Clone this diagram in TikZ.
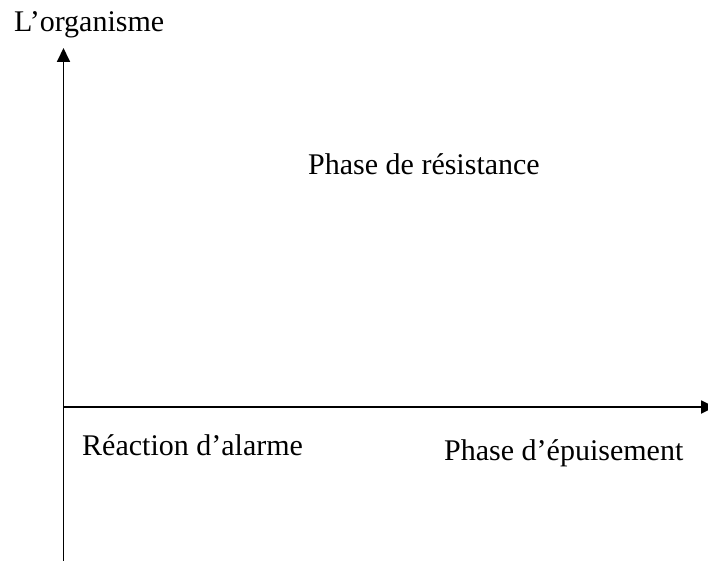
\documentclass[tikz,border=0pt]{standalone}
\usepackage{fontspec}
\setmainfont{Liberation Serif}
\usetikzlibrary{arrows.meta}
\begin{document}
\begin{tikzpicture}[x=1pt, y=-1pt, every node/.style={font=\fontsize{30}{36}\selectfont, inner sep=0pt, anchor=base west}]
        \useasboundingbox (0,0) rectangle (708,561);
        \tikzset{axis/.style={line width=1.8pt, -{Triangle[width=13pt, length=14pt]}}}

        % Axes
        \coordinate (origin) at (63.5,407);
        \coordinate (ytop) at (63.5,48);
        \coordinate (ybot) at (63.5,563);
        \coordinate (xend) at (715,407);
        \draw[axis] (ybot) -- (ytop);
        \draw[axis] (origin) -- (xend);

        % Labels
        \node (organisme) at (14,32) {L’organisme};
        \node (resistance) at (308,175) {Phase de résistance};
        \node (alarme) at (82,455) {Réaction d’alarme};
        \node (epuisement) at (444,460) {Phase d’épuisement};
    \end{tikzpicture}
\end{document}
